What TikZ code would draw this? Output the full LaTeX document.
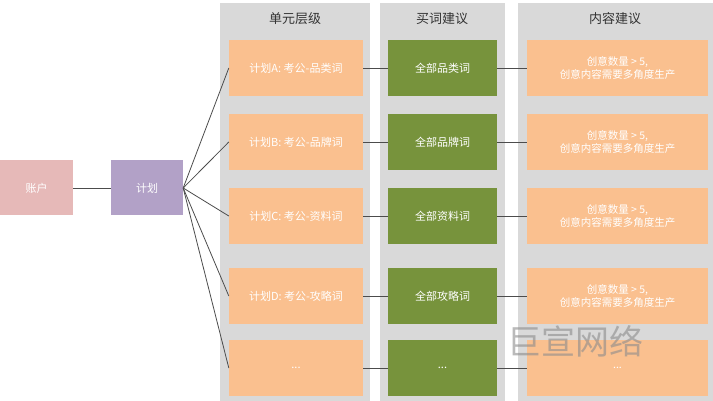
\documentclass[tikz,border=0pt]{standalone}
\usepackage{fontspec}
\setmainfont{Noto Sans CJK SC}
\usetikzlibrary{positioning}
\definecolor{colgray}{RGB}{217,217,217}
\definecolor{planorange}{RGB}{250,192,143}
\definecolor{wordgreen}{RGB}{119,147,60}
\definecolor{acctpink}{RGB}{230,185,184}
\definecolor{planpurple}{RGB}{178,161,199}
\tikzstyle{unitbox} = [fill=planorange, draw=none, rectangle, minimum width=134pt, minimum height=56pt, text=white, font=\fontsize{11}{13}\selectfont, align=center]
\tikzstyle{wordbox} = [fill=wordgreen, draw=none, rectangle, minimum width=109pt, minimum height=56pt, text=white, font=\fontsize{11}{13}\selectfont]
\tikzstyle{ideabox} = [fill=planorange, draw=none, rectangle, minimum width=181pt, minimum height=56pt, text=white, font=\fontsize{10.5}{13}\selectfont, align=center]
\tikzstyle{link} = [draw=black!70, thick]
\tikzstyle{coltitle} = [font=\fontsize{13}{15}\selectfont, text=black!80]
\begin{document}
\begin{tikzpicture}[x=1pt,y=-1pt]
    \useasboundingbox (0,0) rectangle (713,401);
    % columns
    \fill[colgray] (220,3) rectangle (370,401);
    \fill[colgray] (380,3) rectangle (505,401);
    \fill[colgray] (518,3) rectangle (713,401);
    \node[coltitle] (t1) at (295,19) {单元层级};
    \node[coltitle] (t2) at (442,19) {买词建议};
    \node[coltitle] (t3) at (615,19) {内容建议};
    % left side
    \node[fill=acctpink, minimum width=73pt, minimum height=55pt, text=white, font=\fontsize{11}{13}\selectfont] (acct) at (36.5,188) {账户};
    \node[fill=planpurple, minimum width=72pt, minimum height=55pt, text=white, font=\fontsize{11}{13}\selectfont] (plan) at (147,188) {计划};
    \draw[link] (acct) -- (plan);
    % rows
    \foreach \y/\unit/\word/\idea [count=\i] in {
        68/{计划A: 考公-品类词}/全部品类词/{创意数量 > 5,\\创意内容需要多角度生产},
        142/{计划B: 考公-品牌词}/全部品牌词/{创意数量 > 5,\\创意内容需要多角度生产},
        216/{计划C: 考公-资料词}/全部资料词/{创意数量 > 5,\\创意内容需要多角度生产},
        296/{计划D: 考公-攻略词}/全部攻略词/{创意数量 > 5,\\创意内容需要多角度生产},
        368/{...}/{...}/{...}} {
        \node[unitbox] (unit\i) at (296,\y) {\unit};
        \node[wordbox] (word\i) at (442.5,\y) {\word};
        \node[ideabox] (idea\i) at (617.5,\y) {\idea};
        \draw[link] (plan.east) -- (unit\i.west);
        \draw[link] (unit\i) -- (word\i);
        \draw[link] (word\i) -- (idea\i);
    }
    % watermark
    \node[font=\fontsize{34}{36}\selectfont, text=black!45, text opacity=0.6, inner sep=0pt] (mark) at (575,341) {巨宣网络};
\end{tikzpicture}
\end{document}
